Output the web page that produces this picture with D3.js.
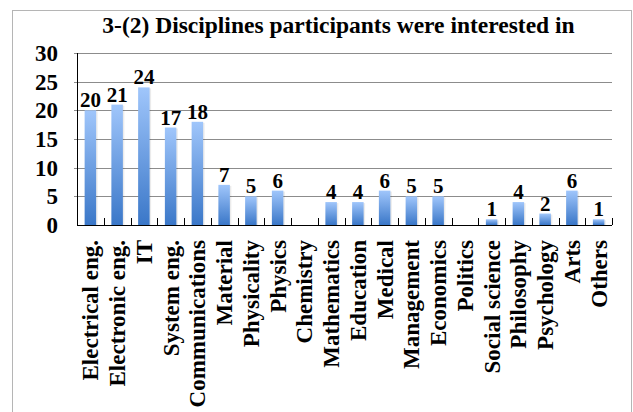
<!DOCTYPE html>
<html>
<head>
<meta charset="utf-8">
<script src="https://cdn.jsdelivr.net/npm/d3@7.9.0/dist/d3.min.js"></script>
<style>
  body { margin: 0; background: #fff; }
  svg text { font-family: "Liberation Serif", "Times New Roman", serif; font-weight: bold; fill: #000; }
</style>
</head>
<body>
<svg id="chart" width="633" height="412"></svg>
<script>
// data
const categories = ['Electrical eng.', 'Electronic eng.', 'IT', 'System eng.', 'Communications',
  'Material', 'Physicality', 'Physics', 'Chemistry', 'Mathematics', 'Education', 'Medical',
  'Management', 'Economics', 'Politics', 'Social science', 'Philosophy', 'Psychology', 'Arts', 'Others'];
const counts = [20, 21, 24, 17, 18, 7, 5, 6, 0, 4, 4, 6, 5, 5, 0, 1, 4, 2, 6, 1];
const yTicks = [0, 5, 10, 15, 20, 25, 30];

const data = categories.map((c, i) => ({ name: c, value: counts[i] }));

const svg = d3.select('#chart');
const W = 633, H = 412;
const margin = { left: 77, right: W - 612, top: 53, bottom: H - 225 };

// frame
svg.append('rect')
  .attr('x', 12.5).attr('y', 10.5)
  .attr('width', 619).attr('height', 420)
  .attr('fill', 'none').attr('stroke', '#b5b5b5');

const x = d3.scaleBand()
  .domain(categories)
  .range([margin.left, W - margin.right])
  .paddingInner(0.57).paddingOuter(0.285);

const y = d3.scaleLinear().domain([0, 30]).range([H - margin.bottom, margin.top]);

// gradient for the bars
const defs = svg.append('defs');
const grad = defs.append('linearGradient').attr('id', 'barGrad')
  .attr('x1', 0).attr('y1', 0).attr('x2', 0).attr('y2', 1);
grad.append('stop').attr('offset', '0%').attr('stop-color', '#a0c6fb');
grad.append('stop').attr('offset', '100%').attr('stop-color', '#3a77c8');

// gridlines
svg.append('g')
  .selectAll('line')
  .data(yTicks.filter(d => d > 0))
  .join('line')
  .attr('x1', margin.left - 3).attr('x2', W - margin.right)
  .attr('y1', d => Math.round(y(d)) + 0.5).attr('y2', d => Math.round(y(d)) + 0.5)
  .attr('stroke', '#8c8c8c').attr('stroke-width', 1);

// y tick labels
svg.append('g')
  .selectAll('text')
  .data(yTicks)
  .join('text')
  .attr('x', 58)
  .attr('y', d => y(d))
  .attr('dy', '0.35em')
  .attr('text-anchor', 'end')
  .style('font-size', '23px')
  .text(d => d);

const bars = data.filter(d => d.value > 0);

// bar shadows
svg.append('g')
  .selectAll('rect')
  .data(bars)
  .join('rect')
  .attr('x', d => x(d.name) + 1.5)
  .attr('y', d => y(d.value) + 1)
  .attr('width', x.bandwidth())
  .attr('height', d => y(0) - y(d.value) - 1)
  .attr('fill', '#000').attr('opacity', 0.08);

// bars
svg.append('g')
  .selectAll('rect')
  .data(bars)
  .join('rect')
  .attr('x', d => x(d.name))
  .attr('y', d => y(d.value))
  .attr('width', x.bandwidth())
  .attr('height', d => y(0) - y(d.value))
  .attr('fill', 'url(#barGrad)');

// value labels
svg.append('g')
  .selectAll('text')
  .data(bars)
  .join('text')
  .attr('x', d => x(d.name) + x.bandwidth() / 2)
  .attr('y', d => y(d.value) - 3)
  .attr('text-anchor', 'middle')
  .style('font-size', '21px')
  .text(d => d.value);

// axis lines
svg.append('line')
  .attr('x1', margin.left + 0.5).attr('x2', margin.left + 0.5)
  .attr('y1', y(30)).attr('y2', y(0))
  .attr('stroke', '#000');
svg.append('line')
  .attr('x1', margin.left).attr('x2', W - margin.right)
  .attr('y1', Math.round(y(0)) + 0.5).attr('y2', Math.round(y(0)) + 0.5)
  .attr('stroke', '#000');

// x tick marks at band boundaries
const step = x.step();
svg.append('g')
  .selectAll('line')
  .data(d3.range(categories.length + 1))
  .join('line')
  .attr('x1', i => Math.round(margin.left + i * step) + 0.5)
  .attr('x2', i => Math.round(margin.left + i * step) + 0.5)
  .attr('y1', y(0) - 7).attr('y2', y(0))
  .attr('stroke', '#000');

// x labels
svg.append('g')
  .selectAll('text')
  .data(categories)
  .join('text')
  .attr('transform', d => `translate(${x(d) + x.bandwidth() / 2},240) rotate(-90)`)
  .attr('dy', '0.35em')
  .attr('text-anchor', 'end')
  .style('font-size', '23px')
  .text(d => d);

// title
svg.append('text')
  .attr('x', 338.5).attr('y', 33)
  .attr('text-anchor', 'middle')
  .style('font-size', '23.5px')
  .text('3-(2) Disciplines participants were interested in');
</script>
</body>
</html>
